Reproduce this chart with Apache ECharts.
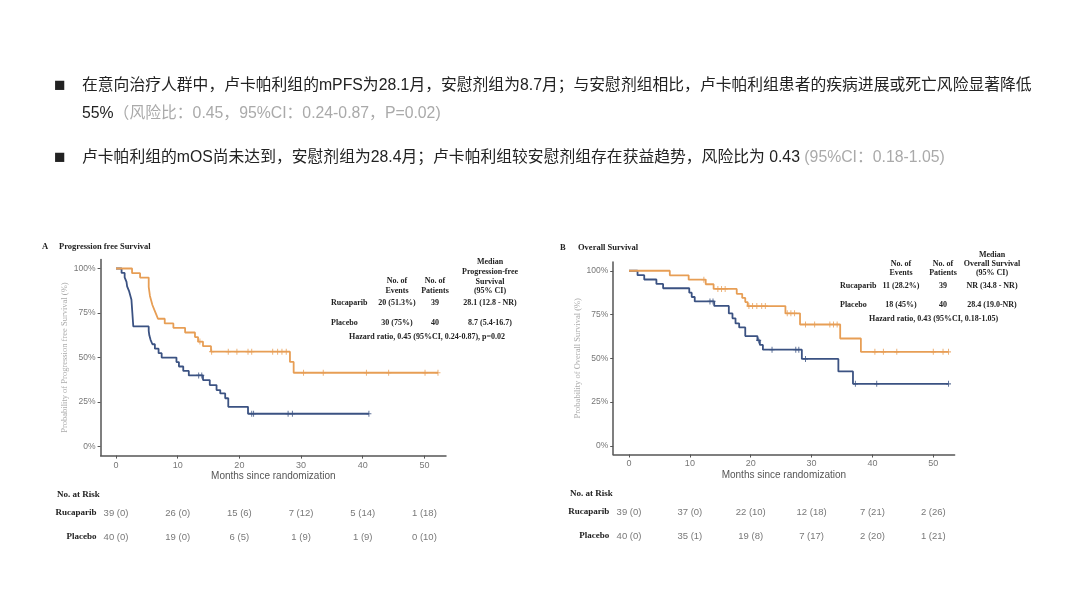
<!DOCTYPE html>
<html><head><meta charset="utf-8">
<script src="https://cdn.jsdelivr.net/npm/echarts@6.0.0/dist/echarts.min.js"></script>
<style>html,body{margin:0;padding:0;background:#fff}#c{width:1080px;height:608px}</style>
</head><body><div id="c"></div>
<script>
// ---------- DATA ----------
// PFS (panel A)
const pfsRucaT = [0, 2.6, 3.9, 5.3, 5.5, 5.7, 5.9, 6.2, 6.5, 6.8, 7.9, 9.3, 11.2, 12.8, 13.3, 14.1, 15.4, 28.2, 28.8, 52.2];
const pfsRucaS = [100, 97.4, 94.9, 89.7, 84.6, 82.1, 79.5, 76.9, 74.4, 71.8, 69.2, 66.7, 64.1, 61.5, 59.0, 56.4, 53.3, 47.6, 41.5, 41.5];
const pfsRucaCens = [13.6, 15.5, 18.2, 19.6, 21.4, 22.0, 25.4, 26.2, 26.9, 27.6, 30.4, 33.6, 40.6, 44.2, 50.1, 52.2];
const pfsPlaT = [0, 0.9, 1.4, 1.7, 1.8, 2.1, 2.3, 2.5, 2.55, 2.6, 2.65, 2.7, 2.75, 2.8, 5.3, 5.4, 5.6, 5.9, 6.3, 6.9, 7.4, 9.8, 10.2, 10.9, 11.8, 14.1, 15.2, 16.3, 16.9, 17.7, 18.2, 21.4, 41.0];
const pfsPlaS = [100, 97.5, 95, 92.5, 90, 87.5, 85, 82.5, 80, 77.5, 75, 72.5, 70, 67.5, 65, 62.5, 60, 57.5, 55, 52.5, 50, 47.5, 45, 42.5, 40, 37.4, 34.6, 31.8, 29.9, 27.2, 22.4, 18.5, 18.5];
const pfsPlaCens = [13.4, 13.9, 22.0, 22.3, 27.9, 28.6, 41.0];
// OS (panel B)
const osRucaT = [0, 6.7, 9.8, 12.6, 13.9, 17.7, 18.6, 19.1, 19.5, 25.7, 28.1, 34.7, 38.1, 52.5];
const osRucaS = [100, 97.4, 94.9, 92.3, 89.6, 86.8, 84.5, 82.1, 79.8, 75.7, 69.3, 61.3, 53.7, 53.7];
const osRucaCens = [12.3, 14.6, 15.2, 15.8, 19.7, 20.3, 21.0, 21.8, 22.4, 26.0, 26.6, 27.2, 29.0, 30.5, 33.0, 33.6, 34.2, 40.4, 41.8, 44.0, 50.0, 51.6, 52.5];
const osPlaT = [0, 1.4, 2.5, 4.5, 5.6, 9.9, 10.3, 10.8, 14.0, 16.4, 17.0, 17.5, 18.1, 19.1, 21.1, 21.5, 22.0, 28.4, 34.4, 36.8, 52.5];
const osPlaS = [100, 97.5, 95, 92.5, 90, 87.5, 85, 82.5, 79.9, 75.6, 72.8, 69.9, 67.6, 62.7, 60.2, 57.6, 54.9, 49.6, 42.5, 35.4, 35.4];
const osPlaCens = [13.3, 13.8, 21.3, 23.5, 27.4, 27.9, 29.0, 37.2, 40.7, 52.5];
// tick labels & risk tables
const xTicks = [0, 10, 20, 30, 40, 50];
const yTicks = [0, 25, 50, 75, 100];
const riskTimes = [0, 10, 20, 30, 40, 50];
const riskGroups = ['Placebo', 'Rucaparib'];
const pfsRiskRuca = ['39 (0)', '26 (0)', '15 (6)', '7 (12)', '5 (14)', '1 (18)'];
const pfsRiskPla = ['40 (0)', '19 (0)', '6 (5)', '1 (9)', '1 (9)', '0 (10)'];
const osRiskRuca = ['39 (0)', '37 (0)', '22 (10)', '12 (18)', '7 (21)', '2 (26)'];
const osRiskPla = ['40 (0)', '35 (1)', '19 (8)', '7 (17)', '2 (20)', '1 (21)'];

// ---------- STYLE ----------
const ORANGE = '#E79E55', BLUE = '#3B5282';
const SERIF = 'Liberation Serif', SANS = 'Liberation Sans';
const HFONT = "'Liberation Sans','Noto Sans CJK SC',sans-serif";
const PLUS = 'path://M4,0h2v10h-2z M0,4h10v2h-10z';

function survAt(T, S, t) { let s = S[0]; for (let i = 0; i < T.length; i++) { if (T[i] <= t) s = S[i]; else break; } return s; }
function km(T, S, color, k) {
  return { type: 'line', xAxisIndex: k, yAxisIndex: k, step: 'end', data: T.map((t, i) => [t, S[i]]),
    showSymbol: false, symbol: 'none', lineStyle: { color, width: 1.8 }, itemStyle: { color }, silent: true, z: 3 };
}
function cens(T, S, C, color, k) {
  return { type: 'scatter', xAxisIndex: k, yAxisIndex: k, data: C.map(t => [t, survAt(T, S, t)]),
    symbol: PLUS, symbolSize: [5, 6], itemStyle: { color }, silent: true, z: 4 };
}
function risk(R, P, k) {
  const data = [];
  riskTimes.forEach((t, i) => { data.push({ value: [t, 1], label: { formatter: R[i] } }); data.push({ value: [t, 0], label: { formatter: P[i] } }); });
  return { type: 'scatter', xAxisIndex: k, yAxisIndex: k, data, symbolSize: 1, itemStyle: { color: 'rgba(0,0,0,0)' },
    label: { show: true, position: 'inside', color: '#555', fontSize: 9.5, fontFamily: SANS }, silent: true };
}
function xAx(k, min) {
  return { gridIndex: k, type: 'value', min: min, max: 53.5,
    axisLine: { onZero: false, lineStyle: { color: '#555', width: 1.5 } },
    axisTick: { show: true, length: 3, customValues: xTicks, lineStyle: { color: '#555' } },
    axisLabel: { customValues: xTicks, color: '#777', fontSize: 9, margin: 5, fontFamily: SANS },
    splitLine: { show: false },
    name: 'Months since randomization', nameLocation: 'middle', nameGap: 16,
    nameTextStyle: { color: '#555', fontSize: 10, fontFamily: SANS } };
}
function yAx(k, name, gap) {
  return { gridIndex: k, type: 'value', min: -5, max: 105,
    axisLine: { onZero: false, show: true, lineStyle: { color: '#555', width: 1.5 } },
    axisTick: { show: true, length: 3, customValues: yTicks, lineStyle: { color: '#555' } },
    axisLabel: { customValues: yTicks, formatter: v => v + '%', color: '#777', fontSize: 8.5, margin: 5, fontFamily: SANS },
    splitLine: { show: false },
    name, nameLocation: 'middle', nameRotate: 90, nameGap: gap,
    nameTextStyle: { color: '#aaa', fontSize: 8.5, fontFamily: SERIF } };
}
function riskX(k, min) { return { gridIndex: k, type: 'value', min: min, max: 53.5, show: false }; }
function riskY(k) {
  return { gridIndex: k, type: 'category', data: riskGroups, axisLine: { show: false }, axisTick: { show: false },
    axisLabel: { color: '#222', fontFamily: SERIF, fontWeight: 'bold', fontSize: 9, margin: 4 } };
}
function T(x, y, text, o) {
  o = o || {};
  return { type: 'text', x, y, silent: true, style: { text, fill: o.fill || '#222',
    font: o.font || ('bold 8px ' + SERIF), textAlign: o.align || 'left', textVerticalAlign: 'middle' } };
}
const BIG = '15.8px ' + HFONT;
const graphics = [
  T(54, 86, '■', { font: '19px ' + HFONT }),
  T(82, 86, '在意向治疗人群中，卢卡帕利组的mPFS为28.1月，安慰剂组为8.7月；与安慰剂组相比，卢卡帕利组患者的疾病进展或死亡风险显著降低', { font: BIG }),
  { type: 'text', x: 82, y: 114, silent: true, style: { text: '{b|55%}{g|（风险比：0.45，95%CI：0.24-0.87，P=0.02)}', font: BIG, textVerticalAlign: 'middle',
      rich: { b: { fill: '#222', color: '#222', font: BIG }, g: { fill: '#aaa', color: '#aaa', font: BIG } } } },
  T(54, 158, '■', { font: '19px ' + HFONT }),
  { type: 'text', x: 82, y: 158, silent: true, style: { text: '{b|卢卡帕利组的mOS尚未达到，安慰剂组为28.4月；卢卡帕利组较安慰剂组存在获益趋势，风险比为 0.43}{g| (95%CI：0.18-1.05)}', font: BIG, textVerticalAlign: 'middle',
      rich: { b: { fill: '#222', color: '#222', font: BIG }, g: { fill: '#aaa', color: '#aaa', font: BIG } } } },
  // Panel A
  T(42, 247, 'A', { font: 'bold 8.5px ' + SERIF }),
  T(59, 247, 'Progression free Survival', { font: 'bold 8.5px ' + SERIF }),
  T(397, 281, 'No. of', { align: 'center' }), T(397, 291, 'Events', { align: 'center' }),
  T(435, 281, 'No. of', { align: 'center' }), T(435, 291, 'Patients', { align: 'center' }),
  T(490, 262, 'Median', { align: 'center' }), T(490, 272, 'Progression-free', { align: 'center' }),
  T(490, 282, 'Survival', { align: 'center' }), T(490, 291, '(95% CI)', { align: 'center' }),
  T(331, 303, 'Rucaparib'), T(397, 303, '20 (51.3%)', { align: 'center' }), T(435, 303, '39', { align: 'center' }), T(490, 303, '28.1 (12.8 - NR)', { align: 'center' }),
  T(331, 323, 'Placebo'), T(397, 323, '30 (75%)', { align: 'center' }), T(435, 323, '40', { align: 'center' }), T(490, 323, '8.7 (5.4-16.7)', { align: 'center' }),
  T(349, 337, 'Hazard ratio, 0.45 (95%CI, 0.24-0.87), p=0.02'),
  T(57, 495, 'No. at Risk', { font: 'bold 9px ' + SERIF }),
  // Panel B
  T(560, 248, 'B', { font: 'bold 8.5px ' + SERIF }),
  T(578, 248, 'Overall Survival', { font: 'bold 8.5px ' + SERIF }),
  T(901, 264, 'No. of', { align: 'center' }), T(901, 273, 'Events', { align: 'center' }),
  T(943, 264, 'No. of', { align: 'center' }), T(943, 273, 'Patients', { align: 'center' }),
  T(992, 255, 'Median', { align: 'center' }), T(992, 264, 'Overall Survival', { align: 'center' }), T(992, 273, '(95% CI)', { align: 'center' }),
  T(840, 286, 'Rucaparib'), T(901, 286, '11 (28.2%)', { align: 'center' }), T(943, 286, '39', { align: 'center' }), T(992, 286, 'NR (34.8 - NR)', { align: 'center' }),
  T(840, 305, 'Placebo'), T(901, 305, '18 (45%)', { align: 'center' }), T(943, 305, '40', { align: 'center' }), T(992, 305, '28.4 (19.0-NR)', { align: 'center' }),
  T(869, 319, 'Hazard ratio, 0.43 (95%CI, 0.18-1.05)'),
  T(570, 494, 'No. at Risk', { font: 'bold 9px ' + SERIF })
];

const chart = echarts.init(document.getElementById('c'), null, { width: 1080, height: 608 });
chart.setOption({
  backgroundColor: '#fff',
  animation: false,
  grid: [
    { left: 100.6, top: 259.6, width: 345.4, height: 196 },
    { left: 613.2, top: 262, width: 341.4, height: 192.5 },
    { left: 100.6, top: 501, width: 345.4, height: 48 },
    { left: 613.2, top: 500, width: 341.4, height: 48 }
  ],
  xAxis: [xAx(0, -2.5), xAx(1, -2.6), riskX(2, -2.5), riskX(3, -2.6)],
  yAxis: [yAx(0, 'Probability of Progression free Survival (%)', 31), yAx(1, 'Probability of Overall Survival (%)', 31), riskY(2), riskY(3)],
  series: [
    km(pfsPlaT, pfsPlaS, BLUE, 0), cens(pfsPlaT, pfsPlaS, pfsPlaCens, BLUE, 0),
    km(pfsRucaT, pfsRucaS, ORANGE, 0), cens(pfsRucaT, pfsRucaS, pfsRucaCens, ORANGE, 0),
    km(osPlaT, osPlaS, BLUE, 1), cens(osPlaT, osPlaS, osPlaCens, BLUE, 1),
    km(osRucaT, osRucaS, ORANGE, 1), cens(osRucaT, osRucaS, osRucaCens, ORANGE, 1),
    risk(pfsRiskRuca, pfsRiskPla, 2), risk(osRiskRuca, osRiskPla, 3)
  ],
  graphic: graphics
});
</script></body></html>
